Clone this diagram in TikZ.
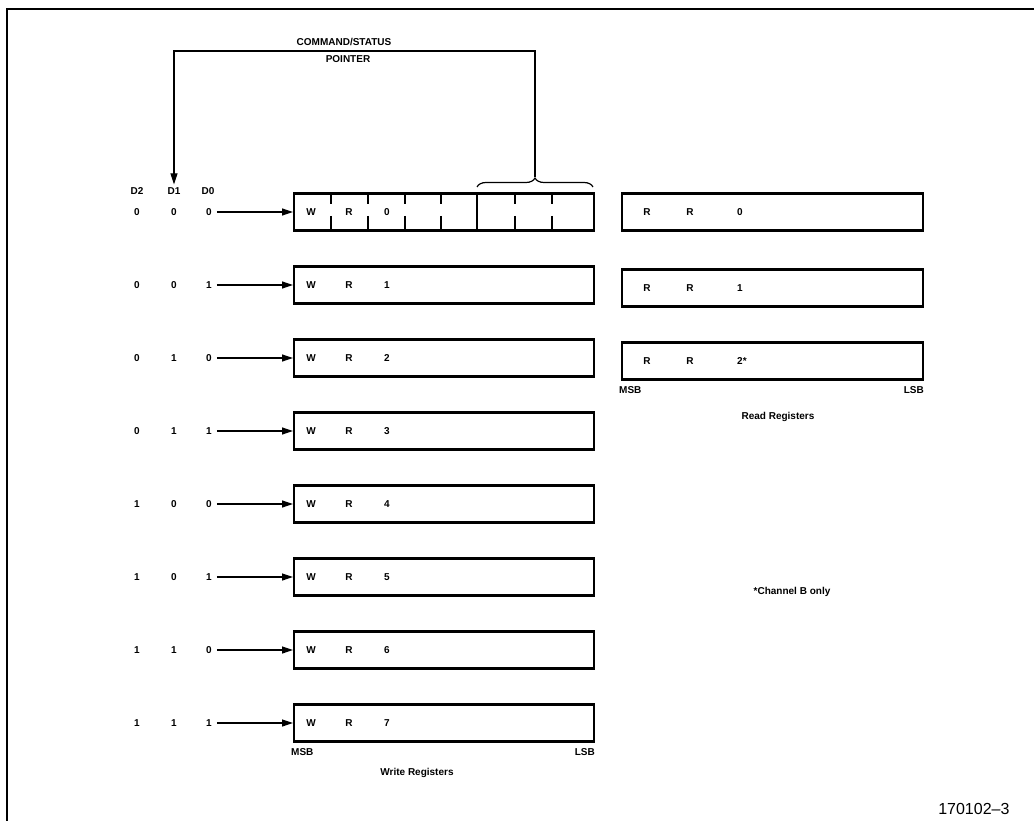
\documentclass[tikz,border=0pt]{standalone}
\usepackage{fontspec}
\setmainfont{Liberation Sans}
\usetikzlibrary{arrows.meta,decorations.pathreplacing}
\begin{document}
\begin{tikzpicture}[x=1pt,y=-1pt,
  reg/.style={draw,line width=2.2pt,minimum width=300pt,minimum height=37pt,inner sep=0pt,anchor=west},
  lab/.style={font=\bfseries\fontsize{10}{12}\selectfont,inner sep=1pt},
  ptr/.style={line width=1.2pt,-{Triangle[length=11pt,width=7pt]}},
  frame/.style={line width=2pt},
  tick/.style={line width=2pt}]
\useasboundingbox (0,0) rectangle (1034,821);
% frame (top and left)
\coordinate (ftl) at (7,9);
\coordinate (ftr) at (1034,9);
\coordinate (fbl) at (7,821);
\draw[frame] (ftr) -- (ftl) -- (fbl);
% header
\node[lab] (hd2) at (137,191) {D2};
\node[lab] (hd1) at (174,191) {D1};
\node[lab] (hd0) at (208,191) {D0};
% write registers
\foreach \i/\a/\b/\c in {0/0/0/0,1/0/0/1,2/0/1/0,3/0/1/1,4/1/0/0,5/1/0/1,6/1/1/0,7/1/1/1}{
  \pgfmathsetmacro{\yy}{212+73*\i}
  \node[reg] (wr\i) at (293,\yy) {};
  \node[lab] (a\i) at (137,\yy) {\a};
  \node[lab] (b\i) at (174,\yy) {\b};
  \node[lab] (c\i) at (209,\yy) {\c};
  \node[lab] (w\i) at (311,\yy) {W};
  \node[lab] (r\i) at (349,\yy) {R};
  \node[lab] (n\i) at (387,\yy) {\i};
  \draw[ptr] (c\i.east) ++(4pt,0) -- (wr\i.west);
}
% bit dividers of WR0
\foreach \x in {331,368,405,441,515,552}{
  \draw[tick] (\x,193.5) -- (\x,204);
  \draw[tick] (\x,216) -- (\x,230.5);
}
\draw[tick] (477,193.5) -- (477,230.5);
% brace and pointer
\draw[line width=1.2pt,decorate,decoration={brace,amplitude=9pt,aspect=0.5}] (477,187) -- (593,187);
\coordinate (bt) at (535,177);
\coordinate (ptop) at (535,51);
\draw[ptr,shorten >=2pt] (bt) -- (ptop) -| (hd1.north);
\node[lab] (cmd) at (344,42) {COMMAND/STATUS};
\node[lab] (pnt) at (348,59) {POINTER};
\node[lab,anchor=west] (wmsb) at (290,752) {MSB};
\node[lab,anchor=east] (wlsb) at (596,752) {LSB};
\node[lab] (wtitle) at (417,773) {Write Registers};
% read registers
\node[reg,minimum width=301pt] (rr0) at (621,212) {};
\node[reg,minimum width=301pt] (rr1) at (621,288) {};
\node[reg,minimum width=301pt] (rr2) at (621,361) {};
\node[lab] at (647,212) {R};
\node[lab] at (690,212) {R};
\node[lab] at (740,212) {0};
\node[lab] at (647,288) {R};
\node[lab] at (690,288) {R};
\node[lab] at (740,288) {1};
\node[lab] at (647,361) {R};
\node[lab] at (690,361) {R};
\node[lab,anchor=west] at (736,361) {2*};
\node[lab,anchor=west] (rmsb) at (618,390) {MSB};
\node[lab,anchor=east] (rlsb) at (925,390) {LSB};
\node[lab] (rtitle) at (778,417) {Read Registers};
\node[lab] (note) at (792,592) {*Channel B only};
\node[font=\fontsize{16}{18}\selectfont,anchor=east] (fig) at (1013,809) {170102\textendash 3};
\end{tikzpicture}
\end{document}
